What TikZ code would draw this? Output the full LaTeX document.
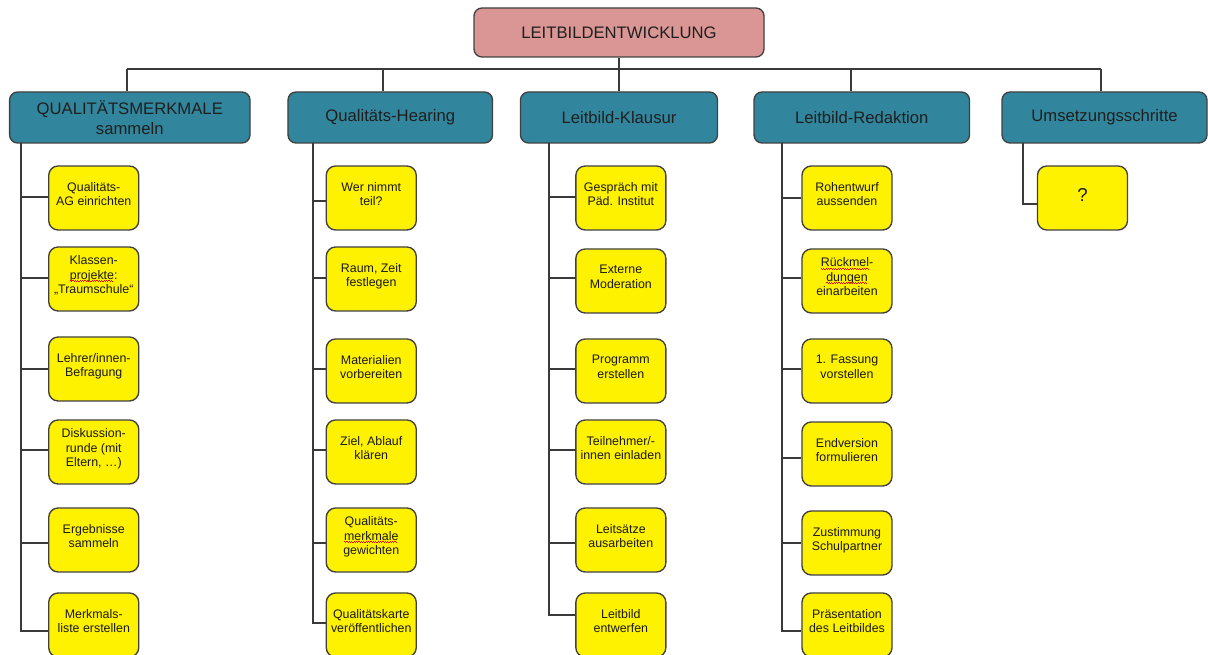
\documentclass[tikz,border=0pt]{standalone}
\usepackage{fontspec}
\setmainfont{Liberation Sans}
\usetikzlibrary{calc}
\definecolor{toppink}{HTML}{D99694}
\definecolor{teal1}{HTML}{31859C}
\definecolor{boxline}{HTML}{404040}
\definecolor{connline}{HTML}{3A3A3A}
\newsavebox\sqbox
\newcommand\sqw[1]{\sbox\sqbox{#1}\rlap{\usebox\sqbox}\raisebox{-1.7pt}{\color{red}\leaders\hbox{\rule[0.55pt]{0.9pt}{0.4pt}\rule{0.9pt}{0.4pt}}\hskip\wd\sqbox}}
\begin{document}
\begin{tikzpicture}[x=0.75pt,y=-0.75pt,
  topbox/.style={draw=boxline,line width=1pt,fill=toppink,rounded corners=6pt,minimum width=217.5pt,minimum height=36.75pt,font=\fontsize{12.5}{15}\selectfont,inner sep=0pt,text=black!88},
  lbox/.style={draw=boxline,line width=1pt,fill=teal1,rounded corners=6pt,minimum height=38.25pt,align=center,font=\fontsize{12.5}{15}\selectfont,inner sep=0pt,text=black!88},
  cbox/.style={draw=boxline,line width=1pt,fill=yellow,rounded corners=7pt,minimum width=67.5pt,minimum height=48pt,align=center,font=\fontsize{9.3}{10.7}\selectfont,inner sep=0pt,text depth=6.5pt,text=black!90},
  conn/.style={draw=connline,line width=0.8pt}]
\useasboundingbox (0,0) rectangle (1208,655);

% top
\node[topbox] (top) at (619,32.5) {LEITBILDENTWICKLUNG};

% level 1
\node[lbox,minimum width=180.3pt] (L1) at (129.8,117.5) {QUALITÄTSMERKMALE\\sammeln};
\node[lbox,minimum width=153.4pt] (L2) at (390.25,117.5) {Qualitäts-Hearing};
\node[lbox,minimum width=147.75pt] (L3) at (619,117.5) {Leitbild-Klausur};
\node[lbox,minimum width=161.6pt] (L4) at (861.75,117.5) {Leitbild-Redaktion};
\node[lbox,minimum width=153.75pt] (L5) at (1104.5,117.5) {Umsetzungsschritte};

% column 1
\node[cbox] (c11) at (93.75,198) {Qualitäts-\\AG einrichten};
\node[cbox] (c12) at (93.75,279) {Klassen-\\\sqw{projekte}:\\„Traumschule“};
\node[cbox] (c13) at (93.75,369) {Lehrer/innen-\\Befragung};
\node[cbox] (c14) at (93.75,452) {Diskussion-\\runde (mit\\Eltern, …)};
\node[cbox] (c15) at (93.75,540) {Ergebnisse\\sammeln};
\node[cbox] (c16) at (93.75,625) {Merkmals-\\liste erstellen};

% column 2
\node[cbox] (c21) at (371.25,198) {Wer nimmt\\teil?};
\node[cbox] (c22) at (371.25,279) {Raum, Zeit\\festlegen};
\node[cbox] (c23) at (371.25,371) {Materialien\\vorbereiten};
\node[cbox] (c24) at (371.25,452) {Ziel, Ablauf\\klären};
\node[cbox] (c25) at (371.25,540) {Qualitäts-\\\sqw{merkmale}\\gewichten};
\node[cbox] (c26) at (371.25,625) {Qualitätskarte\\veröffentlichen};

% column 3
\node[cbox] (c31) at (620.85,198) {Gespräch mit\\Päd. Institut};
\node[cbox] (c32) at (620.85,281) {Externe\\Moderation};
\node[cbox] (c33) at (620.85,371) {Programm\\erstellen};
\node[cbox] (c34) at (620.85,452) {Teilnehmer/-\\innen einladen};
\node[cbox] (c35) at (620.85,540) {Leitsätze\\ausarbeiten};
\node[cbox] (c36) at (620.85,625) {Leitbild\\entwerfen};

% column 4
\node[cbox] (c41) at (847,198) {Rohentwurf\\aussenden};
\node[cbox] (c42) at (847,281) {\sqw{Rückmel}-\\\sqw{dungen}\\einarbeiten};
\node[cbox] (c43) at (847,371) {1. Fassung\\vorstellen};
\node[cbox] (c44) at (847,454) {Endversion\\formulieren};
\node[cbox] (c45) at (847,543) {Zustimmung\\Schulpartner};
\node[cbox] (c46) at (847,625) {Präsentation\\des Leitbildes};

% column 5
\node[cbox,font=\fontsize{14}{16}\selectfont,text depth=5pt] (c51) at (1082.5,198) {?};

% bus
\coordinate (b1) at (127,69);
\coordinate (b2) at (383,69);
\coordinate (b4) at (851,69);
\coordinate (b5) at (1101,69);
\draw[conn] (b1) -- (b5);
\draw[conn] (top.south) -- (L3.north);
\foreach \i in {1,2,4,5} \draw[conn] (b\i) -- (b\i |- L\i.north);

% trunks
\coordinate (t1) at (21,143);
\coordinate (t2) at (313,143);
\coordinate (t3) at (549,143);
\coordinate (t4) at (782,143);
\coordinate (t5) at (1023,143);

\foreach \n/\d in {1/-1,2/-1,3/0,4/-2,5/3,6/6}
  \draw[conn] (t1) |- ($(c1\n.west)+(0,\d)$);
\foreach \n/\d in {1/3,2/-1,3/-2,4/-2,5/3,6/-2}
  \draw[conn] (t2) |- ($(c2\n.west)+(0,\d)$);
\foreach \n/\d in {1/-1,2/-3,3/-2,4/-2,5/3,6/-10}
  \draw[conn] (t3) |- ($(c3\n.west)+(0,\d)$);
\foreach \n/\d in {1/0,2/-3,3/-2,4/4,5/0,6/6}
  \draw[conn] (t4) |- ($(c4\n.west)+(0,\d)$);
\draw[conn] (t5) |- ($(c51.west)+(0,6)$);
\end{tikzpicture}
\end{document}
